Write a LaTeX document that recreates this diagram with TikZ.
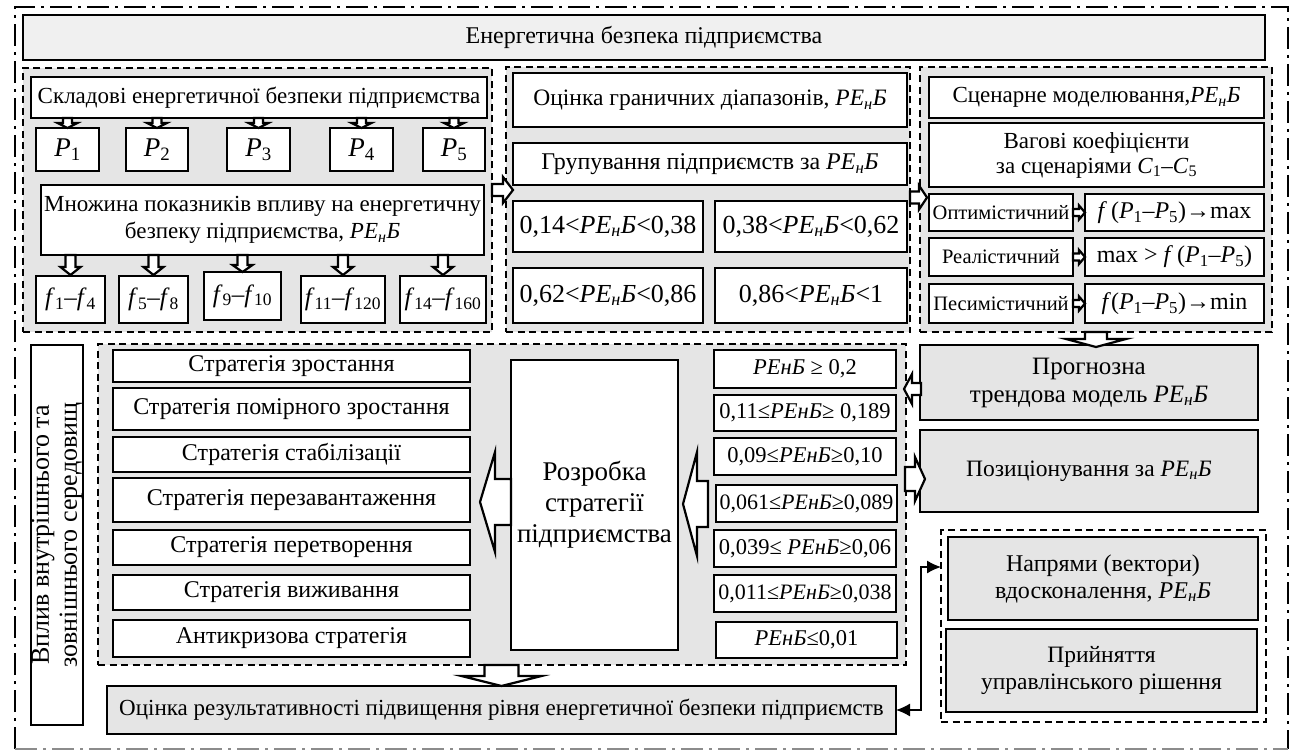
\documentclass[tikz,border=0pt]{standalone}
\usepackage{fontspec}
\setmainfont{Liberation Serif}
\usetikzlibrary{arrows.meta,calc}

% italic index symbol with subscript
\newcommand\peb{\textit{PE\textsubscript{н}Б}}
\newcommand\pen{\textit{РЕнБ}}
\newcommand\ip[2]{\textit{#1}\textsubscript{#2}}
% box given by its corners: [style]{name}{x1}{y1}{x2}{y2}{text}
\newcommand\bx[7][]{\node[box,#1,minimum width={#5-#3},minimum height={#6-#4}] (#2) at ({(#3+#5)/2},{(#4+#6)/2}) {#7};}
\newcommand\fsz[2]{\fontsize{#1}{#2}\selectfont}

\tikzset{
  pics/barrow/.style n args={4}{code={%
    % block arrow along +x: length, shaft half width, head half width, head length
    \path[barrowline] (0,-#2) -- ({#1-#4},-#2) -- ({#1-#4},-#3) -- (#1,0)
      -- ({#1-#4},#3) -- ({#1-#4},#2) -- (0,#2) -- cycle;
  }}
}

\begin{document}
\begin{tikzpicture}[x=1pt,y=-1pt,
  every node/.style={font=\fsz{23.5}{26}, inner sep=0pt, outer sep=0pt},
  box/.style={draw, line width=2.7, fill=white, align=center},
  gbox/.style={fill=black!10},
  tbox/.style={fill=black!6},
  grp/.style={draw, line width=2.2, dash pattern=on 7 off 4.5, fill=black!10},
  barrowline/.style={draw, line width=2.2, fill=white, line join=miter},
]
\useasboundingbox (0,0) rectangle (1292,751);

% outer dash-dot frame
\draw[line width=2.4, dash pattern=on 22 off 6 on 3 off 6]
  (15,749) -- (15,7) -- (1288,7) -- (1288,749);
\draw[line width=2.4, black!45, dash pattern=on 22 off 6 on 3 off 6]
  (15,749) -- (1288,749);

% title
\bx[tbox,font=\fsz{24}{26}]{title}{23}{15}{1265}{60}{Енергетична безпека підприємства}

% groups
\node[grp, minimum width=469, minimum height=264] (grpA) at (257.5,200) {};
\node[grp, minimum width=404, minimum height=265] (grpB) at (708,199.5) {};
\node[grp, minimum width=352, minimum height=265] (grpC) at (1096,199.5) {};
\node[grp, minimum width=808, minimum height=321] (grpD) at (502,504.5) {};
\node[grp, fill=white, minimum width=325, minimum height=192] (grpE) at (1103.5,626) {};

% group A: components and indicators
\bx[font=\fsz{23}{25}]{sk}{31}{77}{487}{118}{Складові енергетичної безпеки підприємства}
\bx[font=\fsz{27}{30}]{p1}{36}{128}{99}{171}{\ip{P}{1}}
\bx[font=\fsz{27}{30}]{p2}{126}{128}{188}{171}{\ip{P}{2}}
\bx[font=\fsz{27}{30}]{p3}{227}{128}{290}{171}{\ip{P}{3}}
\bx[font=\fsz{27}{30}]{p4}{330}{128}{393}{171}{\ip{P}{4}}
\bx[font=\fsz{27}{30}]{p5}{423}{128}{485}{171}{\ip{P}{5}}
\bx[font=\fsz{23}{27}]{mn}{41}{185}{484}{255}{Множина показників впливу на енергетичну\\безпеку підприємства, \peb}
\bx[font=\fsz{25}{28}]{f1}{36}{276}{105}{323}{\ip{f}{1}–\ip{f}{4}}
\bx[font=\fsz{25}{28}]{f2}{119}{276}{188}{323}{\ip{f}{5}–\ip{f}{8}}
\bx[font=\fsz{25}{28}]{f3}{204}{272}{281}{320}{\ip{f}{9}–\ip{f}{10}}
\bx[font=\fsz{25}{28}]{f4}{301}{276}{385}{323}{\ip{f}{11}–\ip{f}{120}}
\bx[font=\fsz{25}{28}]{f5}{400}{276}{486}{323}{\ip{f}{14}–\ip{f}{160}}

% group B: ranges
\bx{oc}{513}{73}{907}{127}{Оцінка граничних діапазонів, \peb}
\bx[font=\fsz{24}{26}]{gr}{513}{143}{907}{185}{Групування підприємств за \peb}
\bx[font=\fsz{26}{28}]{r1}{513}{201}{703}{252}{0,14<\peb<0,38}
\bx[font=\fsz{26}{28}]{r2}{715}{201}{907}{252}{0,38<\peb<0,62}
\bx[font=\fsz{26}{28}]{r3}{513}{268}{703}{323}{0,62<\peb<0,86}
\bx[font=\fsz{26}{28}]{r4}{715}{268}{907}{323}{0,86<\peb<1}

% group C: scenarios
\bx[font=\fsz{23}{26}]{sc}{929}{77}{1264}{118}{Сценарне моделювання,\peb}
\bx[font=\fsz{23}{25}]{vk}{929}{123}{1264}{187}{Вагові коефіцієнти\\за сценаріями \ip{C}{1}–\ip{C}{5}}
\bx[font=\fsz{20.5}{22}]{o1}{929}{194}{1073}{231}{Оптимістичний}
\bx[font=\fsz{20.5}{22}]{o2}{929}{238}{1073}{276}{Реалістичний}
\bx[font=\fsz{20.5}{22}]{o3}{929}{284}{1073}{323}{Песимістичний}
\bx[font=\fsz{24}{26}]{of}{1085}{194}{1264}{231}{\textit{f}\,(\ip{P}{1}–\ip{P}{5})→max}
\bx[font=\fsz{24}{26}]{rf}{1085}{238}{1264}{276}{max > \textit{f}\,(\ip{P}{1}–\ip{P}{5})}
\bx[font=\fsz{24}{26}]{pf}{1085}{284}{1264}{323}{\textit{f}(\ip{P}{1}–\ip{P}{5})→min}

% lower part
\bx{vp}{31}{345}{83}{725}{}
\node[rotate=90, align=center, font=\fsz{26}{28}] (vpt) at (vp.center) {Вплив внутрішнього та\\зовнішнього середовищ};

\bx[font=\fsz{24}{26}]{s1}{113}{350}{470}{382}{Стратегія зростання}
\bx[font=\fsz{24}{26}]{s2}{113}{388}{470}{430}{Стратегія помірного зростання}
\bx[font=\fsz{24}{26}]{s3}{113}{437}{470}{472}{Стратегія стабілізації}
\bx[font=\fsz{24}{26}]{s4}{113}{478}{470}{522}{Стратегія перезавантаження}
\bx[font=\fsz{24}{26}]{s5}{113}{530}{470}{565}{Стратегія перетворення}
\bx[font=\fsz{24}{26}]{s6}{113}{575}{470}{610}{Стратегія виживання}
\bx[font=\fsz{24}{26}]{s7}{113}{620}{470}{657}{Антикризова стратегія}

\bx[font=\fsz{27}{31}]{rs}{511}{360}{678}{650}{Розробка\\стратегії\\підприємства}

\bx[font=\fsz{22.5}{25}]{k1}{714}{350}{896}{388}{\pen{} ≥ 0,2}
\bx[font=\fsz{22.5}{25}]{k2}{714}{395}{896}{431}{0,11≤\pen≥ 0,189}
\bx[font=\fsz{22.5}{25}]{k3}{714}{438}{896}{475}{0,09≤\pen≥0,10}
\bx[font=\fsz{22}{25}]{k4}{716}{485}{897}{522}{0,061≤\pen≥0,089}
\bx[font=\fsz{22.5}{25}]{k5}{714}{530}{896}{567}{0,039≤ \pen≥0,06}
\bx[font=\fsz{22}{25}]{k6}{714}{575}{896}{612}{0,011≤\pen≥0,038}
\bx[font=\fsz{22.5}{25}]{k7}{716}{622}{897}{658}{\pen≤0,01}

\bx[gbox,font=\fsz{25}{28}]{pg}{920}{345}{1258}{420}{Прогнозна\\трендова модель \peb}
\bx[gbox]{pz}{920}{430}{1258}{512}{Позиціонування за \peb}
\bx[gbox,font=\fsz{24}{27}]{nv}{948}{537}{1258}{620}{Напрями (вектори)\\вдосконалення, \peb}
\bx[gbox,font=\fsz{23.5}{27}]{pr}{946}{629}{1257}{712}{Прийняття\\управлінського рішення}

\bx[gbox,font=\fsz{23}{26}]{res}{107}{686}{896}{734}{Оцінка результативності підвищення рівня енергетичної безпеки підприємств}

% block arrows: components -> P boxes
\foreach \p in {p1,p2,p3,p4,p5}
  \pic[rotate=-90] at (sk.south -| \p) {barrow={10}{4.5}{10}{5}};
% indicators -> f boxes
\foreach \p in {f1,f2,f4,f5}
  \pic[rotate=-90] at (mn.south -| \p) {barrow={20}{5}{10}{8}};
\pic[rotate=-90] at (mn.south -| f3) {barrow={17}{5}{10}{7}};

% between upper groups
\pic at ($(grpA.east)+(0,-10)$) {barrow={21}{6}{13}{10}};
\pic at ($(grpB.east)+(0,-2)$) {barrow={17}{6}{12}{8}};
% scenario names -> functions
\foreach \a/\b in {o1/of,o2/rf,o3/pf}
  \pic at (\a.east) {barrow={12}{3.5}{7}{6}};

% scenarios -> forecast model
\pic[rotate=-90] at (grpC.south) {barrow={15}{11}{30}{8}};
% forecast -> criteria, criteria -> positioning
\pic[rotate=180] at ($(pg.west)+(1,6.5)$) {barrow={17}{6}{15}{8}};
\pic at ($(grpD.east)+(-1,-25.5)$) {barrow={20}{12}{22}{10}};
% criteria -> strategy development -> strategies
\pic[rotate=180] at ($(k4.west)+(-8,0.5)$) {barrow={25}{23}{52}{14}};
\pic[rotate=180] at ($(rs.west)+(0,-3)$) {barrow={31}{23}{50}{15}};
% strategies -> evaluation of results
\pic[rotate=-90] at (grpD.south -| res) {barrow={21}{17}{40}{10}};

% feedback between evaluation and decision block
\draw[line width=1.3, {Latex[length=14,width=13]}-{Latex[length=14,width=13]}]
  (res.east) -- ++(25,0) |- ($(grpE.north west)+(0,37)$);

\end{tikzpicture}
\end{document}
